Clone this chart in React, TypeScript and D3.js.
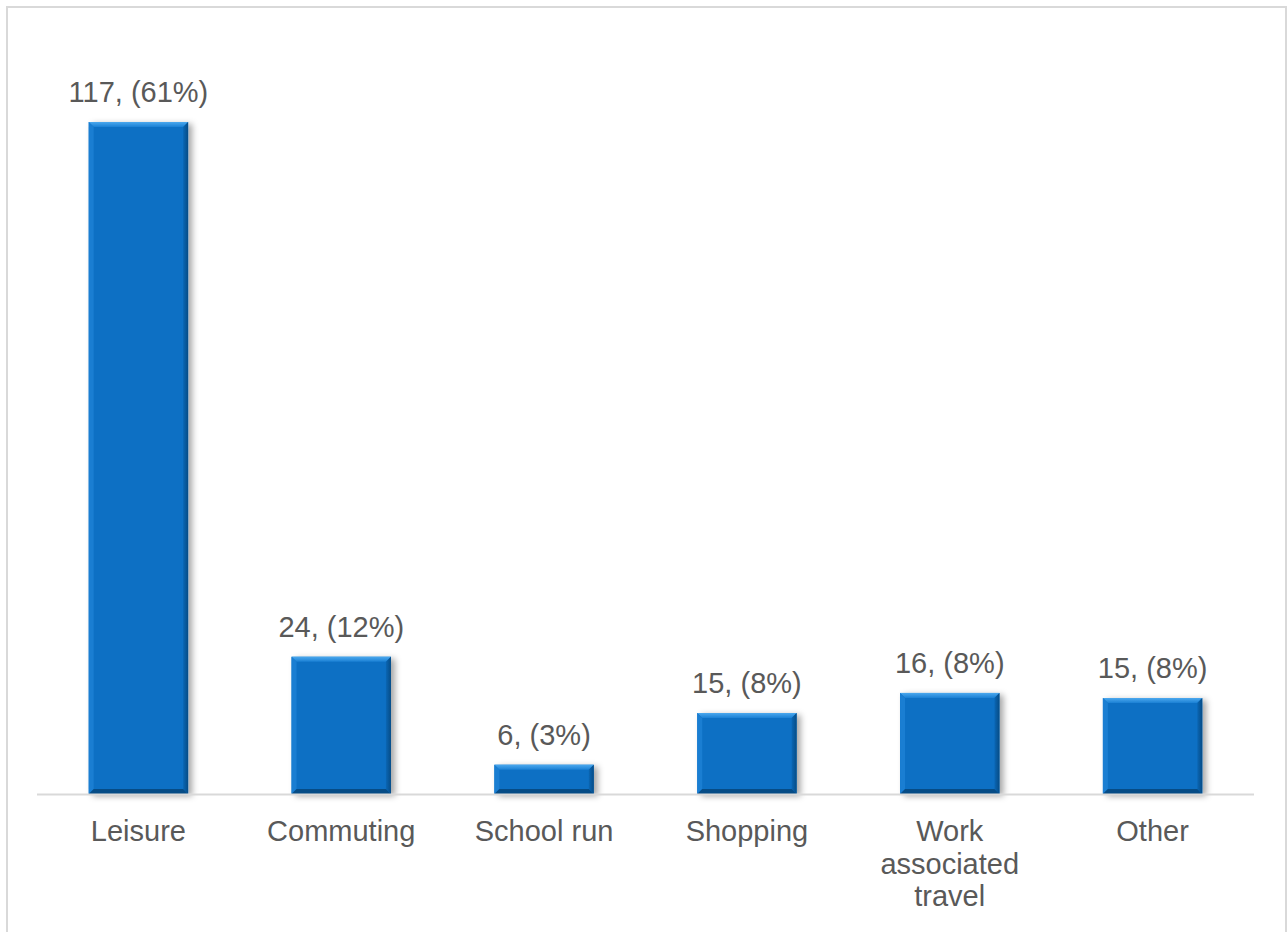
import React from "react";
import * as d3 from "d3";

const categories: string[][] = [
  ["Leisure"],
  ["Commuting"],
  ["School run"],
  ["Shopping"],
  ["Work", "associated", "travel"],
  ["Other"],
];
// bar heights
const values: number[] = [117, 23.9, 5.1, 14.1, 17.6, 16.7];
const labels: string[] = [
  "117, (61%)",
  "24, (12%)",
  "6, (3%)",
  "15, (8%)",
  "16, (8%)",
  "15, (8%)",
];

const W = 1287;
const H = 932;
const left = 37;
const right = 1254;
const baseY = 794;
const topY = 122;

export default function App() {
  const x = d3
    .scaleBand<number>()
    .domain(d3.range(categories.length))
    .range([left, right])
    .paddingInner(0)
    .paddingOuter(0);
  const y = d3.scaleLinear().domain([0, 117]).range([baseY, topY]);
  const barW = x.bandwidth() * 0.49;
  const bev = 5;
  const textColor = "#595959";
  const font = "'Liberation Sans', Arial, sans-serif";

  return (
    <svg
      width={W}
      height={H}
      style={{ position: "absolute", left: 0, top: 0 }}
      fontFamily={font}
    >
      <defs>
        <filter id="sh" x="-20%" y="-20%" width="150%" height="150%">
          <feDropShadow dx="4" dy="2" stdDeviation="3" floodColor="#000" floodOpacity="0.35" />
        </filter>
        <linearGradient id="topBev" x1="0" y1="0" x2="0" y2="1">
          <stop offset="0" stopColor="#4BA8EE" />
          <stop offset="1" stopColor="#1A80D4" />
        </linearGradient>
        <linearGradient id="rightBev" x1="0" y1="0" x2="1" y2="0">
          <stop offset="0" stopColor="#0A66B4" />
          <stop offset="1" stopColor="#064C86" />
        </linearGradient>
      </defs>
      <rect x={0} y={0} width={W} height={H} fill="#fff" />
      <rect x={7} y={7} width={1279} height={H + 20} fill="none" stroke="#d9d9d9" strokeWidth={2} />
      {values.map((v, i) => {
        const cx = (x(i) as number) + x.bandwidth() / 2;
        const x0 = cx - barW / 2;
        const x1 = cx + barW / 2;
        const y0 = y(v);
        const y1 = baseY;
        return (
          <g key={i}>
            <rect x={x0} y={y0} width={barW} height={y1 - y0} fill="#0A70C4" filter="url(#sh)" />
            <polygon
              points={`${x0},${y0} ${x1},${y0} ${x1 - bev},${y0 + bev} ${x0 + bev},${y0 + bev}`}
              fill="url(#topBev)"
            />
            <polygon
              points={`${x0},${y0} ${x0 + bev},${y0 + bev} ${x0 + bev},${y1 - bev} ${x0},${y1}`}
              fill="#1A7ED2"
            />
            <polygon
              points={`${x1},${y0} ${x1},${y1} ${x1 - bev},${y1 - bev} ${x1 - bev},${y0 + bev}`}
              fill="url(#rightBev)"
            />
            <polygon
              points={`${x0},${y1} ${x1},${y1} ${x1 - bev},${y1 - bev} ${x0 + bev},${y1 - bev}`}
              fill="#064C86"
            />
            <text x={cx} y={y0 - 20} textAnchor="middle" fontSize={29} fill={textColor}>
              {labels[i]}
            </text>
            <text x={cx} y={841} textAnchor="middle" fontSize={29} fill={textColor}>
              {categories[i].map((line, j) => (
                <tspan key={j} x={cx} dy={j === 0 ? 0 : 32.5}>
                  {line}
                </tspan>
              ))}
            </text>
          </g>
        );
      })}
      <line x1={left} x2={right} y1={baseY + 0.5} y2={baseY + 0.5} stroke="#d9d9d9" strokeWidth={2} />
    </svg>
  );
}
